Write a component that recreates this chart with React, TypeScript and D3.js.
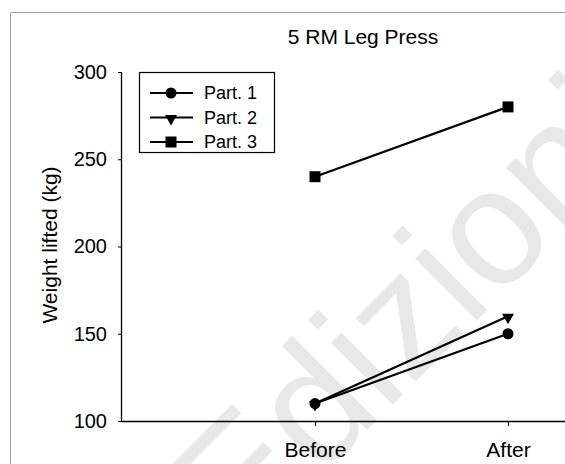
import React, { useEffect, useRef } from "react";
import * as d3 from "d3";

const phases = ["Before", "After"];
const participants = ["Part. 1", "Part. 2", "Part. 3"];
const part1 = [110, 150];
const part2 = [110, 160];
const part3 = [240, 280];
const yTicks = [100, 150, 200, 250, 300];

export default function App() {
  const chartRef = useRef<SVGSVGElement | null>(null);

  useEffect(() => {
    const svg = d3.select(chartRef.current);
    svg.selectAll("*").remove();

    const width = 565;
    const height = 464;
    const font = "'Liberation Sans', Arial, sans-serif";

    // frame
    svg
      .append("path")
      .attr("d", `M10.5,${height} V12.5 H${width}`)
      .attr("fill", "none")
      .attr("stroke", "#a0a0a0")
      .attr("stroke-width", 1);

    // watermark
    svg
      .append("text")
      .attr("transform", "translate(242,555) rotate(-45)")
      .attr("font-family", font)
      .attr("font-size", 165)
      .attr("fill", "#e8e8e8")
      .text("Edizioni");

    const x = d3.scaleLinear().domain([0, 3]).range([122, 701]);
    const xPhase = (p: string) => x(phases.indexOf(p) + 1);
    const y = d3.scaleLinear().domain([100, 300]).range([421, 72]);

    const series = [
      { name: participants[1], values: part2, shape: "triangle" },
      { name: participants[0], values: part1, shape: "circle" },
      { name: participants[2], values: part3, shape: "square" },
    ];

    const marker = (shape: string) => {
      if (shape === "circle") return d3.symbol().type(d3.symbolCircle).size(95)();
      if (shape === "square") return d3.symbol().type(d3.symbolSquare).size(121)();
      return d3.symbol().type(d3.symbolTriangle).size(62)();
    };
    const markerTransform = (shape: string, cx: number, cy: number) =>
      shape === "triangle"
        ? `translate(${cx},${cy + 1}) rotate(180)`
        : `translate(${cx},${cy})`;

    // axes
    const yAxis = svg
      .append("g")
      .attr("transform", "translate(122,0)")
      .call(d3.axisLeft(y).tickValues(yTicks).tickSize(4).tickPadding(11));
    const xAxis = svg
      .append("g")
      .attr("transform", "translate(0,421)")
      .call(
        d3
          .axisBottom(x)
          .tickValues([1, 2])
          .tickFormat((d) => phases[(d as number) - 1])
          .tickSize(5)
          .tickPadding(16)
      );
    [yAxis, xAxis].forEach((g) => {
      g.select(".domain").attr("stroke", "#000").attr("stroke-width", 1.3);
      g.selectAll(".tick line").attr("stroke", "#000");
      g.selectAll("text")
        .attr("font-family", font)
        .attr("font-size", 20)
        .attr("fill", "#000");
    });
    xAxis.selectAll("text").attr("font-size", 21);
    yAxis.select(".domain").attr("d", `M-0.5,72V421`);
    xAxis.select(".domain").attr("d", `M122,0.5H${width}`);

    // lines and markers
    const line = d3
      .line<number>()
      .x((_, i) => xPhase(phases[i]))
      .y((d) => y(d));

    series.forEach((s) => {
      svg
        .append("path")
        .attr("d", line(s.values))
        .attr("fill", "none")
        .attr("stroke", "#000")
        .attr("stroke-width", 2.2);
      s.values.forEach((v, i) => {
        svg
          .append("path")
          .attr("d", marker(s.shape))
          .attr("transform", markerTransform(s.shape, xPhase(phases[i]), y(v)))
          .attr("fill", "#000");
      });
    });

    // title
    svg
      .append("text")
      .attr("x", 363)
      .attr("y", 44)
      .attr("text-anchor", "middle")
      .attr("font-family", font)
      .attr("font-size", 21)
      .text("5 RM Leg Press");

    // y label
    svg
      .append("text")
      .attr("transform", "translate(57,245) rotate(-90)")
      .attr("text-anchor", "middle")
      .attr("font-family", font)
      .attr("font-size", 21)
      .text("Weight lifted (kg)");

    // legend
    const legend = svg.append("g");
    legend
      .append("rect")
      .attr("x", 139.5)
      .attr("y", 72.5)
      .attr("width", 135)
      .attr("height", 80)
      .attr("fill", "#fff")
      .attr("stroke", "#000")
      .attr("stroke-width", 1.2);
    const legendItems = [
      { name: participants[0], shape: "circle" },
      { name: participants[1], shape: "triangle" },
      { name: participants[2], shape: "square" },
    ];
    legendItems.forEach((d, i) => {
      const ly = 93 + i * 24.5;
      legend
        .append("line")
        .attr("x1", 150)
        .attr("x2", 193)
        .attr("y1", ly)
        .attr("y2", ly)
        .attr("stroke", "#000")
        .attr("stroke-width", 2.2);
      legend
        .append("path")
        .attr("d", marker(d.shape))
        .attr("transform", markerTransform(d.shape, 171, ly))
        .attr("fill", "#000");
      legend
        .append("text")
        .attr("x", 204)
        .attr("y", ly + 6)
        .attr("font-family", font)
        .attr("font-size", 18)
        .text(d.name);
    });
  }, []);

  return (
    <svg
      ref={chartRef}
      width={565}
      height={464}
      style={{ position: "absolute", left: 0, top: 0, background: "#fff" }}
    />
  );
}
